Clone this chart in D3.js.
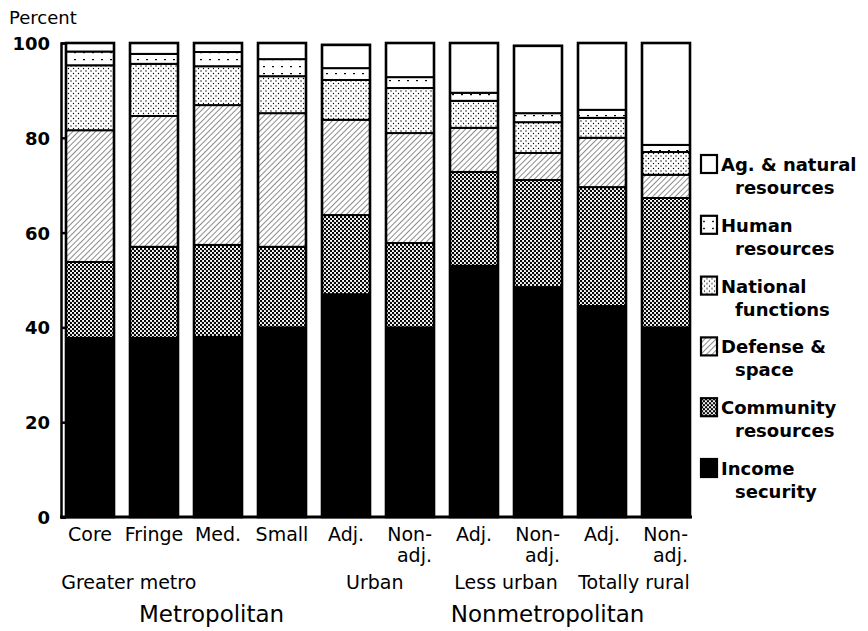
<!DOCTYPE html>
<html>
<head>
<meta charset="utf-8">
<script src="https://cdn.jsdelivr.net/npm/d3@7"></script>
<style>
  body { margin: 0; background: #fff; }
  text { font-family: "DejaVu Sans", sans-serif; fill: #000; }
</style>
</head>
<body>
<svg id="chart" width="868" height="631"></svg>
<script>
// bar labels, one array of lines per bar
const barLabels = [["Core"], ["Fringe"], ["Med."], ["Small"], ["Adj."], ["Non-", "adj."],
                   ["Adj."], ["Non-", "adj."], ["Adj."], ["Non-", "adj."]];

// percent of federal funds by function, bottom to top
const income    = [37.8, 37.8, 38.0, 40.0, 47.0, 40.0, 53.0, 48.5, 44.5, 40.0];
const community = [16.0, 19.2, 19.4, 17.0, 16.7, 17.8, 19.8, 22.6, 25.1, 27.3];
const defense   = [27.8, 27.6, 29.5, 28.2, 20.1, 23.2,  9.3,  5.7, 10.4,  4.9];
const national  = [13.7, 11.0,  8.2,  7.8,  8.4,  9.5,  5.7,  6.5,  4.2,  4.8];
const human     = [ 2.9,  2.1,  3.0,  3.6,  2.5,  2.3,  1.7,  1.9,  1.7,  1.5];
const ag        = [ 1.8,  2.3,  1.9,  3.4,  4.9,  7.2, 10.5, 14.2, 14.1, 21.5];

const seriesKeys = ["income", "community", "defense", "national", "human", "ag"];
const seriesNames = {
    ag: ["Ag. & natural", "resources"],
    human: ["Human", "resources"],
    national: ["National", "functions"],
    defense: ["Defense &", "space"],
    community: ["Community", "resources"],
    income: ["Income", "security"]
};
const yTicks = [0, 20, 40, 60, 80, 100];

// grouping labels under the bars, "at" counted in bars
const groupLabels = [
    {text: "Greater metro", at: -0.45, anchor: "start"},
    {text: "Urban", at: 4.45, anchor: "middle"},
    {text: "Less urban", at: 6.5, anchor: "middle"},
    {text: "Totally rural", at: 8.5, anchor: "middle"}
];
const areaLabels = [
    {text: "Metropolitan", at: 1.9},
    {text: "Nonmetropolitan", at: 7.15}
];

// build the table for the stack
const table = barLabels.map((d, i) => ({
    i: i, income: income[i], community: community[i], defense: defense[i],
    national: national[i], human: human[i], ag: ag[i]
}));

const svg = d3.select("#chart");

const x = d3.scaleBand()
    .domain(d3.range(barLabels.length))
    .range([58, 698])
    .paddingInner(0.25)
    .paddingOuter(0.125);

// bar centres, for labels placed between bars
const xc = d3.scaleLinear()
    .domain([0, barLabels.length - 1])
    .range([x(0) + x.bandwidth() / 2, x(barLabels.length - 1) + x.bandwidth() / 2]);

const y = d3.scaleLinear()
    .domain([0, 100])
    .range([517, 43]);

// fill patterns, like the printed screens
const defs = svg.append("defs");

let p = defs.append("pattern").attr("id", "pat-community")
    .attr("patternUnits", "userSpaceOnUse").attr("width", 4).attr("height", 4);
p.append("rect").attr("width", 4).attr("height", 4).attr("fill", "#fff");
p.append("circle").attr("cx", 1).attr("cy", 1).attr("r", 1.2).attr("fill", "#000");
p.append("circle").attr("cx", 3).attr("cy", 3).attr("r", 1.2).attr("fill", "#000");

p = defs.append("pattern").attr("id", "pat-defense")
    .attr("patternUnits", "userSpaceOnUse").attr("width", 4).attr("height", 4)
    .attr("patternTransform", "rotate(45)");
p.append("rect").attr("width", 4).attr("height", 4).attr("fill", "#fff");
p.append("line").attr("x1", 0).attr("y1", 0).attr("x2", 0).attr("y2", 4)
    .attr("stroke", "#000").attr("stroke-width", 0.9);

p = defs.append("pattern").attr("id", "pat-national")
    .attr("patternUnits", "userSpaceOnUse").attr("width", 5).attr("height", 5);
p.append("rect").attr("width", 5).attr("height", 5).attr("fill", "#fff");
p.append("circle").attr("cx", 1).attr("cy", 1).attr("r", 0.7).attr("fill", "#000");
p.append("circle").attr("cx", 3.5).attr("cy", 3.5).attr("r", 0.7).attr("fill", "#000");

p = defs.append("pattern").attr("id", "pat-human")
    .attr("patternUnits", "userSpaceOnUse").attr("width", 9).attr("height", 7);
p.append("rect").attr("width", 9).attr("height", 7).attr("fill", "#fff");
p.append("rect").attr("x", 2).attr("y", 3).attr("width", 2).attr("height", 1.2).attr("fill", "#000");

const fills = {
    income: "#000",
    community: "url(#pat-community)",
    defense: "url(#pat-defense)",
    national: "url(#pat-national)",
    human: "url(#pat-human)",
    ag: "#fff"
};

// stacked bars
const stacked = d3.stack().keys(seriesKeys)(table);

svg.append("g")
    .selectAll("g")
    .data(stacked)
    .join("g")
    .attr("fill", d => fills[d.key])
    .selectAll("rect")
    .data(d => d)
    .join("rect")
    .attr("x", d => x(d.data.i))
    .attr("y", d => y(d[1]))
    .attr("width", x.bandwidth())
    .attr("height", d => y(d[0]) - y(d[1]))
    .attr("stroke", "#000")
    .attr("stroke-width", 2);

// outline of each bar
svg.append("g")
    .selectAll("rect")
    .data(table)
    .join("rect")
    .attr("x", d => x(d.i))
    .attr("y", d => y(d3.sum(seriesKeys, k => d[k])))
    .attr("width", x.bandwidth())
    .attr("height", d => y(0) - y(d3.sum(seriesKeys, k => d[k])))
    .attr("fill", "none")
    .attr("stroke", "#000")
    .attr("stroke-width", 2.6);

// y axis with ticks turned inward
const yAxis = svg.append("g")
    .attr("transform", "translate(61,0)")
    .call(d3.axisLeft(y).tickValues(yTicks).tickSizeInner(-5).tickSizeOuter(-5).tickPadding(11));
yAxis.select(".domain").attr("stroke-width", 2.5);
yAxis.selectAll(".tick line").attr("stroke-width", 2.5);
yAxis.selectAll(".tick text")
    .style("font-family", "'DejaVu Sans', sans-serif")
    .style("font-size", "18px")
    .style("font-weight", "bold")
    .attr("dy", "0.36em");

// baseline
svg.append("line")
    .attr("x1", 60).attr("x2", x(barLabels.length - 1) + x.bandwidth() + 2)
    .attr("y1", y(0)).attr("y2", y(0))
    .attr("stroke", "#000").attr("stroke-width", 3);

svg.append("text")
    .attr("x", 9).attr("y", 24)
    .style("font-size", "18px")
    .text("Percent");

// bar labels
svg.append("g")
    .selectAll("text")
    .data(barLabels)
    .join("text")
    .attr("text-anchor", d => d.length > 1 ? "end" : "middle")
    .attr("x", (d, i) => d.length > 1 ? x(i) + x.bandwidth() - 2 : x(i) + x.bandwidth() / 2)
    .attr("y", 541)
    .style("font-size", "19px")
    .selectAll("tspan")
    .data(d => d)
    .join("tspan")
    .attr("x", function () { return this.parentNode.getAttribute("x"); })
    .attr("dy", (d, j) => j ? 21 : 0)
    .text(d => d);

// group labels
svg.append("g")
    .selectAll("text")
    .data(groupLabels)
    .join("text")
    .attr("text-anchor", d => d.anchor)
    .attr("x", d => xc(d.at))
    .attr("y", 589)
    .style("font-size", "19px")
    .text(d => d.text);

svg.append("g")
    .selectAll("text")
    .data(areaLabels)
    .join("text")
    .attr("text-anchor", "middle")
    .attr("x", d => xc(d.at))
    .attr("y", 622)
    .style("font-size", "23px")
    .text(d => d.text);

// legend, top item first
const legend = svg.append("g")
    .selectAll("g")
    .data(seriesKeys.slice().reverse())
    .join("g")
    .attr("transform", (d, i) => "translate(701," + (171 + i * 60.8) + ")");

legend.append("rect")
    .attr("x", 0).attr("y", -16)
    .attr("width", 16).attr("height", 18)
    .attr("fill", d => fills[d])
    .attr("stroke", "#000")
    .attr("stroke-width", 2.2);

legend.append("text")
    .attr("x", 20).attr("y", 0)
    .style("font-size", "18px")
    .style("font-weight", "bold")
    .selectAll("tspan")
    .data(d => seriesNames[d])
    .join("tspan")
    .attr("x", (d, j) => j ? 34 : 20)
    .attr("dy", (d, j) => j ? 23 : 0)
    .text(d => d);
</script>
</body>
</html>
